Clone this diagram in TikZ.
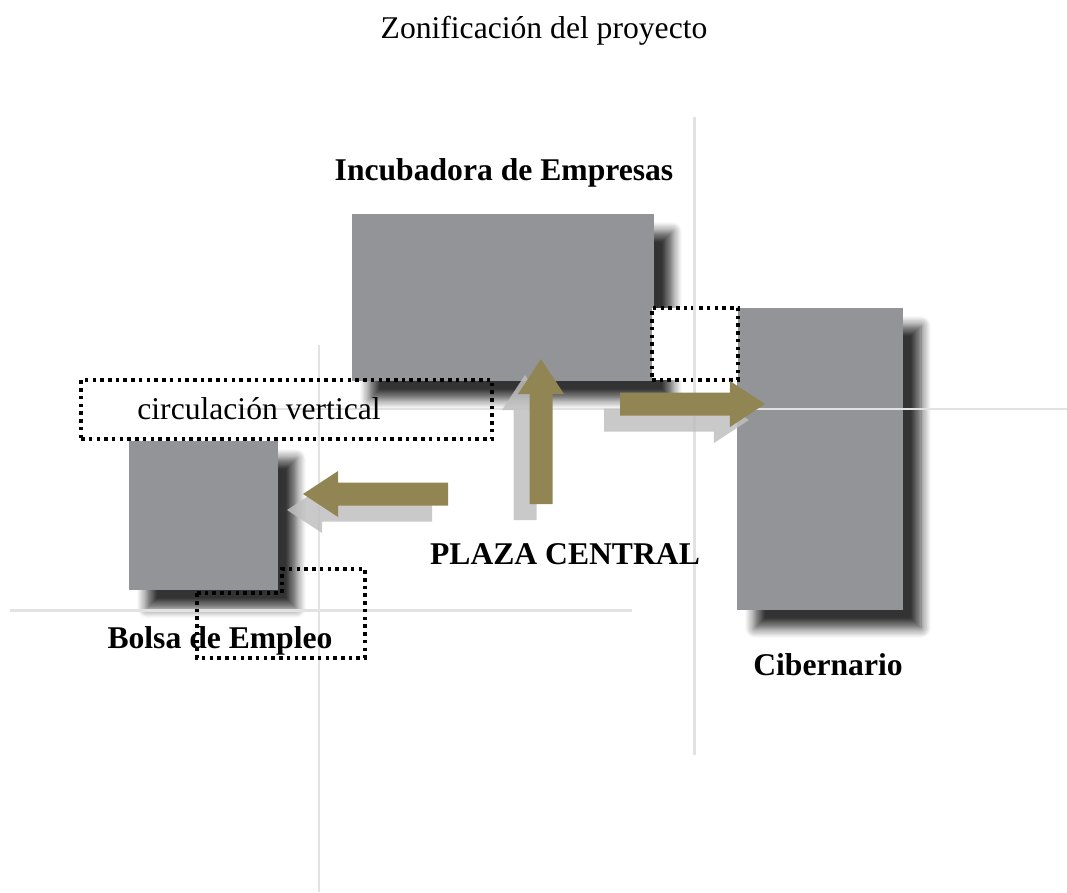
\documentclass[tikz,border=0pt]{standalone}
\usepackage{fontspec}
\setmainfont{Liberation Serif}
\usetikzlibrary{shadows.blur}
\definecolor{zonagris}{RGB}{147,148,152}
\definecolor{olivo}{RGB}{145,134,83}
\definecolor{ejegris}{RGB}{226,226,226}
\tikzset{
	zona/.style={fill=zonagris,inner sep=0pt,
		blur shadow={shadow xshift=.36cm,shadow yshift=-.36cm,shadow blur radius=.2cm,shadow blur steps=8,shadow opacity=80}},
	punteado/.style={draw=black,line width=2pt,dash pattern=on 2pt off 2.4pt,inner sep=0pt},
	eje/.style={draw=ejegris,line width=1.7pt},
	rotulo/.style={font=\fontsize{18}{21}\selectfont\bfseries},
	sombraflecha/.style={fill=black!25,fill opacity=.85},
	flechaolivo/.style={fill=olivo},
	flecha/.pic={\path[pic actions] (0cm,.23cm)--(2.2cm,.23cm)--(2.2cm,.46cm)--(2.9cm,0cm)
		--(2.2cm,-.46cm)--(2.2cm,-.23cm)--(0cm,-.23cm)--cycle;}
}
\begin{document}
\begin{tikzpicture}[x=0.02cm,y=-0.02cm]
	\useasboundingbox (0,0) rectangle (1067,892);
	\node[font=\fontsize{18}{21}\selectfont] (titulo) at (544,31) {Zonificación del proyecto};
	% zonas
	\node[zona,minimum width=6.04cm,minimum height=3.34cm] (incubadora) at (503,297.5) {};
	\node[zona,minimum width=3.32cm,minimum height=6.04cm] (cibernario) at (820,459) {};
	\node[zona,minimum width=2.98cm,minimum height=2.98cm] (bolsa) at (203.5,515.5) {};
	\node[punteado,fill=white,minimum width=1.72cm,minimum height=1.44cm] (escalera) at (695,344) {};
	% ejes
	\draw[eje] (694,117)--(694,755);
	\draw[eje] (319,345)--(319,892);
	\draw[eje] (240,409)--(1067,409);
	\draw[eje] (10,610)--(632,610);
	% flechas
	\pic[sombraflecha,rotate=90] at (525,520) {flecha};
	\pic[flechaolivo,rotate=90] at (541,504) {flecha};
	\pic[sombraflecha] at (604,420) {flecha};
	\pic[flechaolivo] at (620,404) {flecha};
	\pic[sombraflecha,rotate=180] at (432,510) {flecha};
	\pic[flechaolivo,rotate=180] at (448,494) {flecha};
	% circulaciones
	\node[punteado,minimum width=8.22cm,minimum height=1.18cm] (circulacion) at (286.5,409.5) {};
	\node[font=\fontsize{18}{21}\selectfont] (circtexto) at (259,409) {circulación vertical};
	\draw[punteado] (197,593)--(282,593)--(282,569)--(365,569)--(365,658)--(197,658)--cycle;
	% rotulos
	\node[rotulo] (rincubadora) at (504,173) {Incubadora de Empresas};
	\node[rotulo] (rplaza) at (565,554) {PLAZA CENTRAL};
	\node[rotulo] (rbolsa) at (220,641) {Bolsa de Empleo};
	\node[rotulo] (rcibernario) at (828,665) {Cibernario};
\end{tikzpicture}
\end{document}
